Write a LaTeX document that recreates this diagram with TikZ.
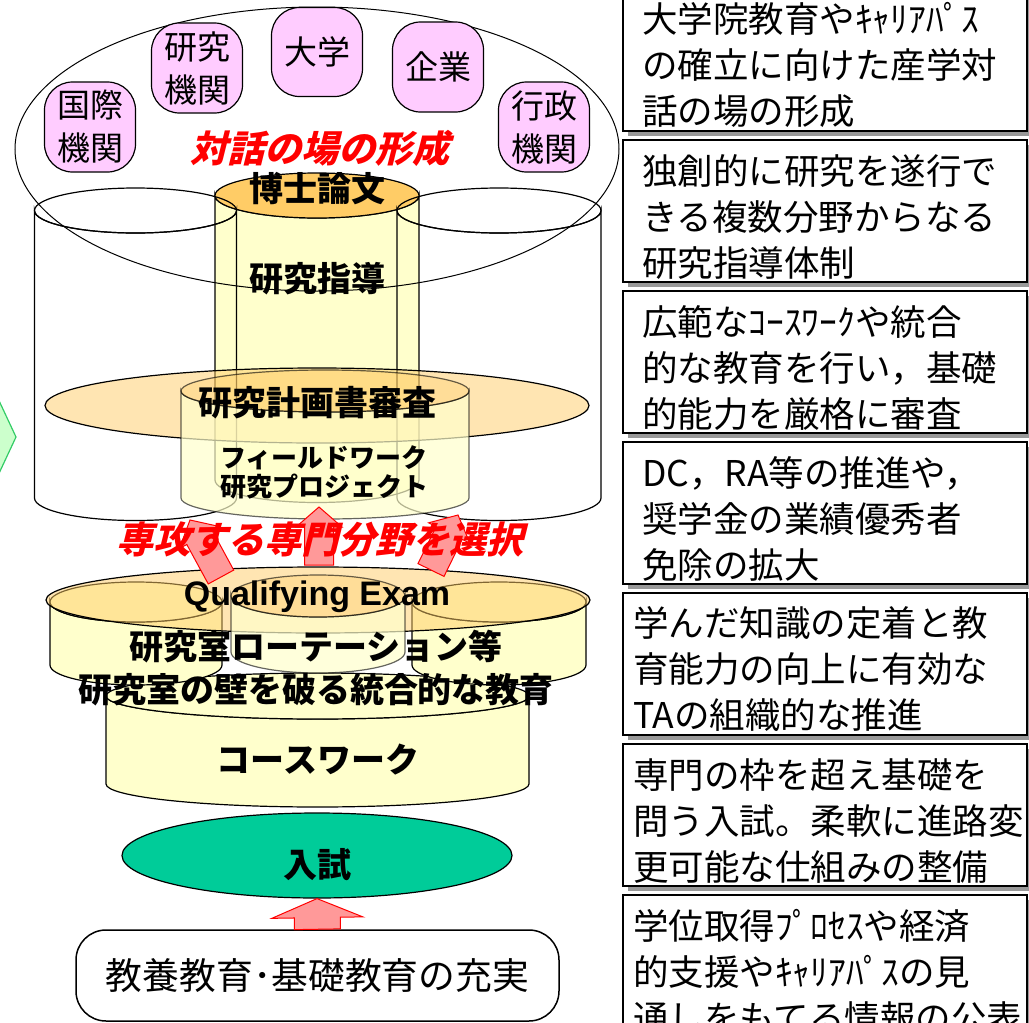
\documentclass[tikz,border=0pt]{standalone}
\usepackage{fontspec}
\setmainfont{Noto Sans CJK JP}
\newfontfamily\jpslant{Noto Sans CJK JP}[FakeSlant=0.25]
\newfontfamily\qefont{Liberation Sans}
\usepackage{tikz}
\usetikzlibrary{calc,shadows}
\usetikzlibrary{shapes.geometric}

\definecolor{paleyellow}{RGB}{255,255,204}
\definecolor{lightorange}{RGB}{255,204,102}
\definecolor{palepink}{RGB}{255,204,255}
\definecolor{examgreen}{RGB}{0,204,153}
\definecolor{arrowpink}{RGB}{255,153,153}
\definecolor{palegreen}{RGB}{204,255,204}
\definecolor{chevrongreen}{RGB}{51,204,102}

% cylinder: centre x, x radius, top y, bottom y, y radius, body style, top style
\newcommand{\drum}[7]{%
  \path[#6] ({#1-#2},#3) -- ({#1-#2},#4) arc[start angle=180, end angle=0, x radius=#2, y radius=#5]
    -- ({#1+#2},#3) arc[start angle=0, end angle=180, x radius=#2, y radius=#5] -- cycle;
  \path[#7] (#1,#3) ellipse[x radius=#2, y radius=#5];
}
% block arrow: from, to, shaft half width, head half width, head length
\newcommand{\blockarrow}[5]{%
  \coordinate (ab) at #1; \coordinate (at) at #2;
  \coordinate (ah) at ($(at)!#5!(ab)$);
  \filldraw[arrowshape] ($(ab)!#3!90:(at)$) -- ($(ah)!#3!-90:(ab)$) -- ($(ah)!#4!-90:(ab)$) -- (at)
    -- ($(ah)!#4!90:(ab)$) -- ($(ah)!#3!90:(ab)$) -- ($(ab)!#3!-90:(at)$) -- cycle;
}

\begin{document}
\begin{tikzpicture}[x=1pt, y=-1pt,
  infobox/.style={draw, line width=2pt, fill=white, minimum width=404, minimum height=136, align=left,
    font=\fontsize{35.5}{46}\selectfont, execute at begin node={\rule{0pt}{41pt}},
    drop shadow={shadow xshift=5pt, shadow yshift=-5pt, fill=gray, opacity=.8}},
  widepad/.style={inner xsep=19pt, text width=366pt},
  narrowpad/.style={inner xsep=10pt, text width=384pt},
  orgbox/.style={draw, line width=1.2pt, fill=palepink, rounded corners=28pt, minimum width=91,
    minimum height=90, align=center, inner sep=0pt, font=\fontsize{33}{43}\selectfont},
  boldlabel/.style={font=\fontsize{34}{40}\selectfont\bfseries, inner sep=0pt},
  smalllabel/.style={font=\fontsize{26}{28}\selectfont\bfseries, inner sep=0pt},
  redlabel/.style={text=red, font=\jpslant\bfseries\fontsize{37}{40}\selectfont, inner sep=0pt},
  arrowshape/.style={fill=arrowpink, draw=red, line width=1pt},
  outline/.style={draw=black, line width=1.2pt},
  yellowbody/.style={outline, fill=paleyellow},
  orangetop/.style={outline, fill=lightorange},
  glassbody/.style={fill=paleyellow, fill opacity=.7, draw=black, draw opacity=.6, line width=1.2pt},
  glasstop/.style={fill=lightorange, fill opacity=.35, draw=black, draw opacity=.6, line width=1.2pt},
  platefill/.style={outline, fill=lightorange, fill opacity=.5}]

\useasboundingbox (0,0) rectangle (1029,1023);

\filldraw[fill=palegreen, draw=chevrongreen, line width=1.2pt] (-20,360) -- (16,437) -- (-20,514);

% research stage
\drum{317}{102}{195.5}{480}{22.5}{yellowbody}{orangetop}
\drum{135.5}{101}{210.5}{498}{22.5}{outline}{outline}
\drum{499}{102}{210.5}{498}{22.5}{outline}{outline}
\path[platefill] (317,405.5) ellipse[x radius=272, y radius=37.5];
\drum{325}{144}{391}{498}{21}{glassbody}{glasstop}
\draw[line width=1pt] (317,149) ellipse[x radius=302, y radius=142];

\node[orgbox] (kokusai) at (90,127) {国際\\機関};
\node[orgbox] (kenkyu) at (197,68) {研究\\機関};
\node[orgbox, minimum height=89] (daigaku) at (317,52) {大学};
\node[orgbox] (kigyo) at (438,67) {企業};
\node[orgbox] (gyosei) at (544,127) {行政\\機関};

\node[redlabel] (dialog) at (320,148) {対話の場の形成};
\node[boldlabel] (thesis) at (317,189) {博士論文};
\node[boldlabel] (guide) at (317,279) {研究指導};
\node[boldlabel] (plan) at (317,403) {研究計画書審査};
\node[smalllabel] (field) at (324,458) {フィールドワーク};
\node[smalllabel] (project) at (324,487) {研究プロジェクト};

% qualifying stage
\drum{317.5}{211.5}{696}{784}{23}{yellowbody}{yellowbody}
\drum{136}{86}{602}{665}{20}{yellowbody}{yellowbody}
\drum{499}{87}{602}{665}{20}{yellowbody}{yellowbody}
\path[platefill] (318,600) ellipse[x radius=272, y radius=33];
\drum{318}{87}{596}{652}{21}{glassbody}{glasstop}

\coordinate (selL) at (221,577); \coordinate (selLtip) at (190,520);
\coordinate (selM) at (319,565); \coordinate (selMtip) at (319,507);
\coordinate (selR) at (431,570); \coordinate (selRtip) at (458,515);
\blockarrow{(selL)}{(selLtip)}{14.5pt}{23pt}{20pt}
\blockarrow{(selM)}{(selMtip)}{14.5pt}{23pt}{20pt}
\blockarrow{(selR)}{(selRtip)}{14.5pt}{23pt}{20pt}

\node[redlabel] (choose) at (320,540) {専攻する専門分野を選択};
\node[inner sep=0pt, font=\qefont\bfseries\fontsize{34}{40}\selectfont] (qe) at (317,597) {Qualifying Exam};
\node[boldlabel] (rotation) at (316,647) {研究室ローテーション等};
\node[boldlabel] (wall) at (316,690) {研究室の壁を破る統合的な教育};
\node[boldlabel] (course) at (318,760) {コースワーク};

% entrance
\node[ellipse, draw, line width=1.2pt, fill=examgreen, minimum width=390, minimum height=85, inner sep=0pt] (exam) at (317,855.5) {};
\node[boldlabel] (examtext) at (317,865) {入試};
\node[draw, line width=1.5pt, fill=white, rounded corners=30pt, minimum width=483, minimum height=91,
  font=\fontsize{36.8}{40}\selectfont] (edu) at (317.5,975.5) {教養教育･基礎教育の充実};
\blockarrow{(edu.north)}{(exam.south)}{23pt}{45.5pt}{19pt}

% notes
\node[infobox, widepad] (note1) at (825,60) {大学院教育やｷｬﾘｱﾊﾟｽ\\の確立に向けた産学対\\話の場の形成};
\node[infobox, widepad] (note2) at (825,211) {独創的に研究を遂行で\\きる複数分野からなる\\研究指導体制};
\node[infobox, widepad] (note3) at (825,362) {広範なｺｰｽﾜｰｸや統合\\的な教育を行い，基礎\\的能力を厳格に審査};
\node[infobox, widepad] (note4) at (825,513) {DC，RA等の推進や，\\奨学金の業績優秀者\\免除の拡大};
\node[infobox, narrowpad] (note5) at (825,664) {学んだ知識の定着と教\\育能力の向上に有効な\\TAの組織的な推進};
\node[infobox, narrowpad] (note6) at (825,815) {専門の枠を超え基礎を\\問う入試。柔軟に進路変\\更可能な仕組みの整備};
\node[infobox, narrowpad] (note7) at (825,966) {学位取得ﾌﾟﾛｾｽや経済\\的支援やｷｬﾘｱﾊﾟｽの見\\通しをもてる情報の公表};
\end{tikzpicture}
\end{document}
